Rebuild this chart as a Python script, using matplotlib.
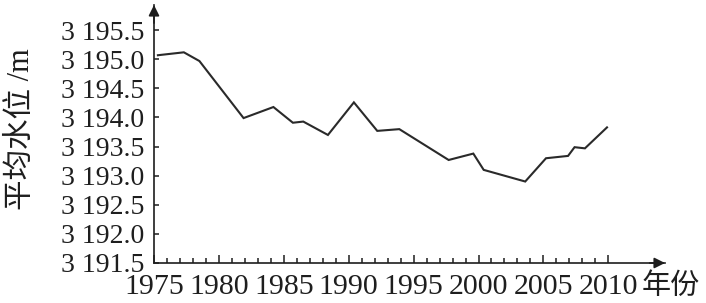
import matplotlib
matplotlib.use("Agg")
import matplotlib.pyplot as plt
from matplotlib.ticker import FixedLocator

years = [1975.3, 1977.3, 1978.5, 1981.9, 1984.2, 1985.7, 1986.5, 1988.4, 1990.4,
         1992.2, 1993.9, 1997.7, 1999.6, 2000.4, 2003.6, 2005.2, 2006.9, 2007.4,
         2008.2, 2009.9]
levels = [3195.07, 3195.12, 3194.97, 3193.99, 3194.18, 3193.91, 3193.93, 3193.70,
          3194.26, 3193.77, 3193.80, 3193.27, 3193.38, 3193.10, 3192.90, 3193.30,
          3193.34, 3193.49, 3193.47, 3193.83]

x_ticks = [1975, 1980, 1985, 1990, 1995, 2000, 2005, 2010]
x_labels = ["1975", "1980", "1985", "1990", "1995", "2000", "2005", "2010"]
y_ticks = [3191.5, 3192.0, 3192.5, 3193.0, 3193.5, 3194.0, 3194.5, 3195.0, 3195.5]
y_labels = ["3 191.5", "3 192.0", "3 192.5", "3 193.0", "3 193.5", "3 194.0",
            "3 194.5", "3 195.0", "3 195.5"]

FONT = ["Liberation Serif", "Noto Sans CJK SC"]
plt.rcParams['font.family'] = FONT

INK = "#1e1e1e"
W, H = 706, 303
fig = plt.figure(figsize=(W / 100, H / 100), dpi=100)
# axes: x from 154 to 665 px, y from 5 to 263 px
ax = fig.add_axes([154 / W, (H - 263) / H, (665 - 154) / W, (263 - 5) / H])

px_per_year = (608.3 - 154) / 35.0
x_max = 1975 + (665 - 154) / px_per_year
px_per_unit = (263 - 30.2) / 4.0
y_max = 3191.5 + (263 - 5) / px_per_unit
ax.set_xlim(1975, x_max)
ax.set_ylim(3191.5, y_max)

ax.plot(years, levels, color="#2a2a2a", lw=1.5, solid_joinstyle="miter")

for s in ["top", "right"]:
    ax.spines[s].set_visible(False)
for s in ["left", "bottom"]:
    ax.spines[s].set_linewidth(1.2)
    ax.spines[s].set_color(INK)

ax.set_xticks(x_ticks)
ax.set_xticklabels(x_labels, fontsize=21.5, color=INK)
ax.xaxis.set_minor_locator(FixedLocator(list(range(1976, 2010))))
ax.tick_params(axis="x", which="major", direction="in", length=6, width=1.1, pad=8, colors=INK)
ax.tick_params(axis="x", which="minor", direction="in", length=3.5, width=1.1, colors=INK)

ax.set_yticks(y_ticks)
ax.set_yticklabels(y_labels, fontsize=20, color=INK)
ax.tick_params(axis="y", which="major", direction="in", length=3.5, width=1.1, pad=7, colors=INK)

# arrows
ax.annotate("", xy=(1.0, 0), xytext=(0.97, 0), xycoords="axes fraction",
            arrowprops=dict(arrowstyle="-|>", color=INK, lw=1.2,
                            mutation_scale=16, shrinkA=0, shrinkB=0))
ax.annotate("", xy=(0, 1.0), xytext=(0, 0.93), xycoords="axes fraction",
            arrowprops=dict(arrowstyle="-|>", color=INK, lw=1.2,
                            mutation_scale=16, shrinkA=0, shrinkB=0))

fig.text(21 / W, 1 - 129 / H, "平均水位 /m", rotation=90, ha="center", va="center",
         fontsize=22, color=INK)
fig.text(671 / W, 1 - 287 / H, "年份", ha="center", va="center",
         fontsize=21, color=INK)

fig.savefig("out.png", dpi=100)
